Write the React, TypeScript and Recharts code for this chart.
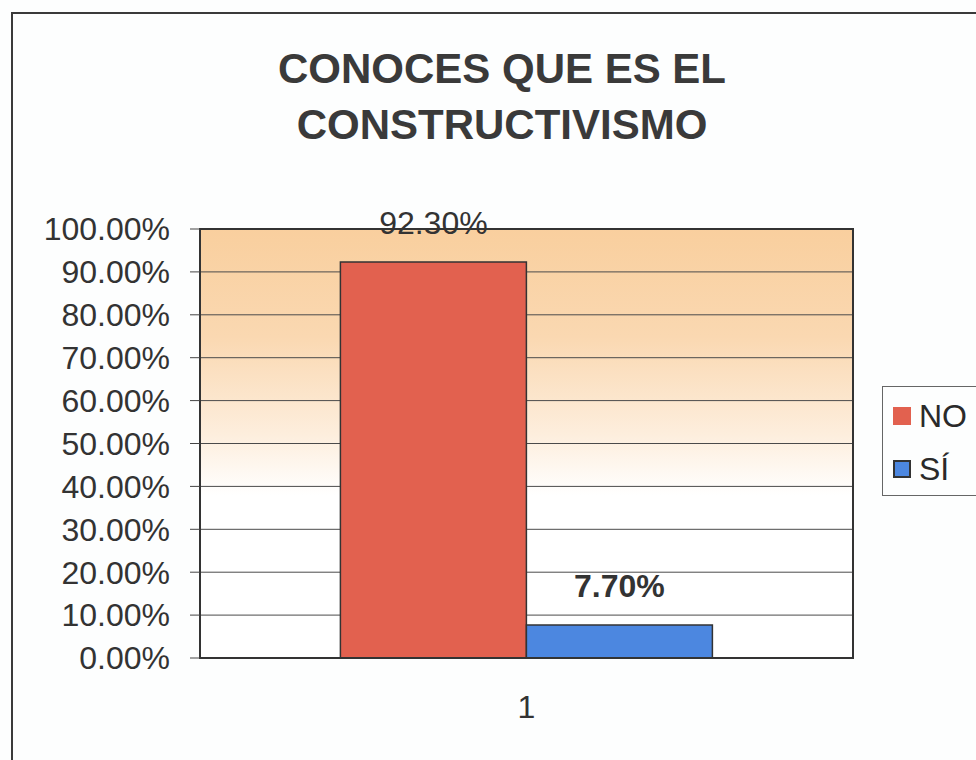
import {
  BarChart,
  Bar,
  XAxis,
  YAxis,
  CartesianGrid,
  LabelList,
  ReferenceArea,
} from 'recharts';

const titleLines = ['CONOCES QUE ES EL', 'CONSTRUCTIVISMO'];
const categories = ['1'];
const noValues = [92.3];
const siValues = [7.7];
const yTicks = [0, 10, 20, 30, 40, 50, 60, 70, 80, 90, 100];
const seriesNames = ['NO', 'SÍ'];
const seriesColors = ['#e2614f', '#4c87e0'];

const data = categories.map((c, i) => ({ name: c, no: noValues[i], si: siValues[i] }));

const font = '"Liberation Sans", Arial, sans-serif';
const pct = (v: number) => `${Number(v).toFixed(2)}%`;

export default function App() {
  return (
    <div style={{ position: 'relative', width: 976, height: 760, overflow: 'hidden', background: '#fdfefe', fontFamily: font }}>
      <style>{'body{margin:0;overflow:hidden}'}</style>

      {/* outer frame, runs off the right/bottom edges like the scan */}
      <div style={{
        position: 'absolute',
        left: 11,
        top: 12,
        width: 1000,
        height: 800,
        border: '2px solid #3a3a3a',
      }} />

      <div style={{
        position: 'absolute',
        left: 202,
        top: 41,
        width: 600,
        textAlign: 'center',
        fontSize: 42,
        lineHeight: '56px',
        fontWeight: 700,
        color: '#3a3a3a',
      }}>
        {titleLines.map((t) => <div key={t}>{t}</div>)}
      </div>

      <div style={{ position: 'absolute', left: 0, top: 0 }}>
        <BarChart
          width={976}
          height={760}
          data={data}
          margin={{ top: 229, right: 123, bottom: 72, left: 0 }}
          barCategoryGap="21.5%"
          barGap={0}
        >
          <defs>
            <linearGradient id="plotBg" x1="0" y1="0" x2="0" y2="1">
              <stop offset="0%" stopColor="#f9cf9e" />
              <stop offset="25%" stopColor="#fad8b1" />
              <stop offset="48%" stopColor="#fdeedd" />
              <stop offset="62%" stopColor="#ffffff" />
              <stop offset="100%" stopColor="#ffffff" />
            </linearGradient>
          </defs>
          <CartesianGrid
            vertical={false}
            stroke="#4a4a4a"
            strokeWidth={1}
            fill="url(#plotBg)"
            fillOpacity={1}
          />
          <XAxis
            dataKey="name"
            height={30}
            tickLine={false}
            tickSize={0}
            tickMargin={37}
            axisLine={{ stroke: '#333', strokeWidth: 2 }}
            tick={{ fontSize: 32, fill: '#333', fontFamily: font }}
          />
          <YAxis
            width={200}
            domain={[0, 100]}
            ticks={yTicks}
            interval={0}
            tickFormatter={pct}
            tickSize={10}
            tickMargin={20}
            tickLine={{ stroke: '#444' }}
            axisLine={{ stroke: '#333', strokeWidth: 2 }}
            tick={{ fontSize: 32, fill: '#333', fontFamily: font }}
          />
          <ReferenceArea y1={0} y2={100} fill="none" stroke="#333" strokeWidth={2} ifOverflow="visible" />
          <Bar dataKey="no" name={seriesNames[0]} fill={seriesColors[0]} stroke="#333" strokeWidth={1.5} isAnimationActive={false}>
            <LabelList
              dataKey="no"
              position="top"
              offset={28}
              formatter={pct}
              style={{ fontSize: 32, fill: '#333', fontFamily: font }}
            />
          </Bar>
          <Bar dataKey="si" name={seriesNames[1]} fill={seriesColors[1]} stroke="#333" strokeWidth={1.5} isAnimationActive={false}>
            <LabelList
              dataKey="si"
              position="top"
              offset={28}
              formatter={pct}
              style={{ fontSize: 32, fill: '#333', fontFamily: font, fontWeight: 700 }}
            />
          </Bar>
        </BarChart>
      </div>

      {/* legend box */}
      <div style={{
        position: 'absolute',
        left: 882,
        top: 386,
        width: 120,
        height: 110,
        border: '1px solid #666',
        boxSizing: 'border-box',
        background: '#fdfefe',
      }}>
        {seriesNames.map((n, i) => (
          <div key={n} style={{
            position: 'absolute',
            left: 10,
            top: i === 0 ? 11 : 64,
            height: 36,
            display: 'flex',
            alignItems: 'center',
            fontSize: 32,
            color: '#2a2a2a',
          }}>
            <span style={{
              display: 'inline-block',
              width: 18,
              height: 18,
              marginRight: 8,
              background: seriesColors[i],
              border: i === 1 ? '2px solid #333' : 'none',
              boxSizing: 'border-box',
            }} />
            {n}
          </div>
        ))}
      </div>
    </div>
  );
}
